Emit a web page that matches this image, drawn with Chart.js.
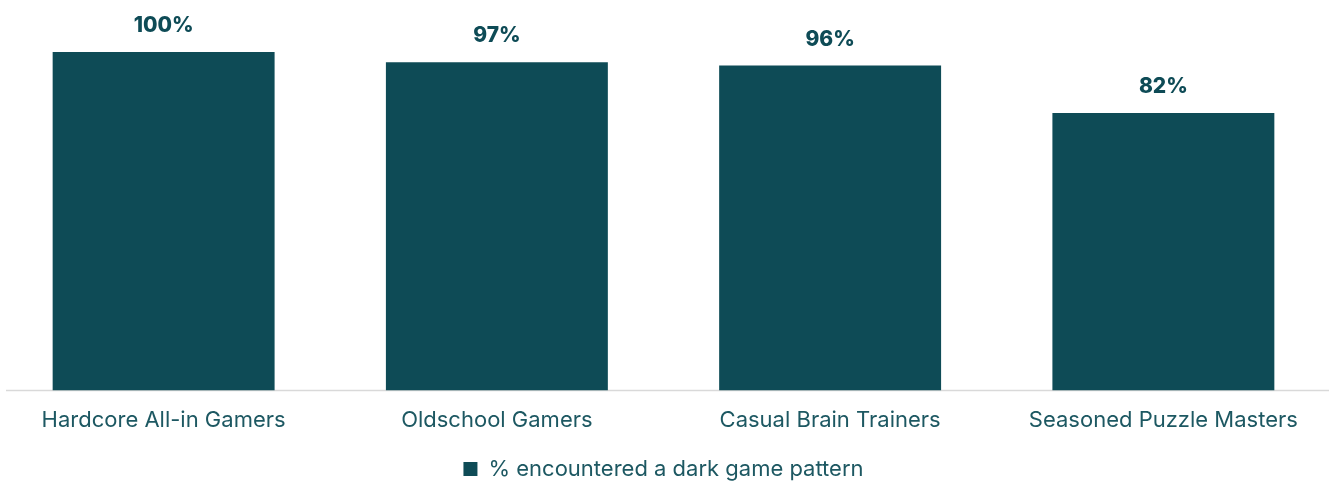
<!DOCTYPE html>
<html>
<head>
<meta charset="utf-8">
<script src="https://cdn.jsdelivr.net/npm/chart.js@4"></script>
<style>
  html, body { margin: 0; padding: 0; background: #ffffff; overflow: hidden; }
  #wrap { position: absolute; left: -3px; top: 0; width: 1333px; height: 483px; }
</style>
</head>
<body>
<div id="wrap"><canvas id="chart"></canvas></div>
<script>
const categories = ['Hardcore All-in Gamers', 'Oldschool Gamers', 'Casual Brain Trainers', 'Seasoned Puzzle Masters'];
const encountered = [100, 97, 96, 82];
const seriesName = '% encountered a dark game pattern';

const BAR = '#0e4b56';
const TEXT = '#1d5862';

// Bold percentage labels above each bar
const valueLabels = {
  id: 'valueLabels',
  afterDatasetsDraw(chart) {
    const ctx = chart.ctx;
    const meta = chart.getDatasetMeta(0);
    ctx.save();
    ctx.font = '800 21px Inter';
    ctx.fillStyle = BAR;
    ctx.textAlign = 'center';
    ctx.textBaseline = 'middle';
    meta.data.forEach((bar, i) => {
      ctx.fillText(encountered[i] + '%', bar.x, bar.y - 26);
    });
    ctx.restore();
  }
};

// Light baseline under the bars
const baseline = {
  id: 'baseline',
  beforeDatasetsDraw(chart) {
    const ctx = chart.ctx;
    const y = chart.scales.y.getPixelForValue(0);
    ctx.save();
    ctx.strokeStyle = '#d9d9d9';
    ctx.lineWidth = 1.5;
    ctx.beginPath();
    ctx.moveTo(9, y);
    ctx.lineTo(1332, y);
    ctx.stroke();
    ctx.restore();
  }
};

new Chart(document.getElementById('chart'), {
  type: 'bar',
  data: {
    labels: categories,
    datasets: [{
      label: seriesName,
      data: encountered,
      backgroundColor: BAR,
      borderWidth: 0,
      barPercentage: 0.666,
      categoryPercentage: 1.0
    }]
  },
  options: {
    responsive: true,
    maintainAspectRatio: false,
    animation: false,
    layout: { padding: { top: 52, left: 0, right: 0, bottom: -7 } },
    scales: {
      x: {
        grid: { display: false },
        border: { display: false },
        ticks: { color: TEXT, font: { family: 'Inter', size: 22 }, padding: 9, maxRotation: 0 },
        afterFit(scale) { scale.height += 13; }
      },
      y: {
        display: false,
        min: 0,
        max: 100
      }
    },
    plugins: {
      legend: {
        position: 'bottom',
        labels: {
          color: TEXT,
          font: { family: 'Inter', size: 22 },
          boxWidth: 14,
          boxHeight: 14,
          padding: 2
        }
      },
      tooltip: { enabled: false }
    }
  },
  plugins: [valueLabels, baseline]
});
</script>
</body>
</html>
